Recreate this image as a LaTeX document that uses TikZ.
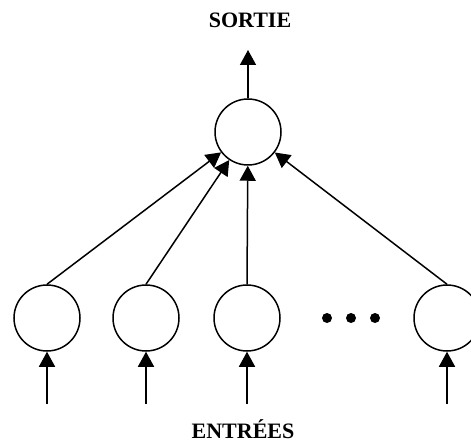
\documentclass[tikz,border=0pt]{standalone}
\usepackage{fontspec}
\setmainfont{Liberation Serif}
\usepackage{tikz}
\usetikzlibrary{calc,arrows.meta}

\tikzset{
  neuron/.style={draw,circle,line width=1.5pt,minimum size=66pt,inner sep=0pt},
  link/.style={line width=1.5pt,-{Triangle[length=15pt,width=16pt]}},
  caption/.style={font=\fontsize{22}{24}\selectfont\bfseries,inner sep=0pt}
}

\begin{document}
\begin{tikzpicture}[x=1pt,y=-1pt]
  \useasboundingbox (0,0) rectangle (471,446);

  %% Output unit and its label
  \node[neuron] (OUT) at (248,132) {};
  \coordinate (OUTTIP) at (248,50);
  \node[caption] (SORTIE) at (250,20) {SORTIE};
  \draw[link] (OUT.north) -- (OUTTIP);

  %% Input units, each one fed from below and wired to the output
  \foreach \i/\x in {1/47,2/146,3/247,4/447}
  {
    \node[neuron] (IN\i) at (\x,318) {};
    \coordinate (SRC\i) at (\x,404);
    \draw[link] (SRC\i) -- (IN\i.south);
    \draw[link] (IN\i.north) -- (OUT);
  }

  %% Dots for the units left out
  \foreach \x in {327,351,375}
    \fill (\x,318) circle (5pt);

  \node[caption,anchor=base] (ENTREES) at (243,438) {ENTRÉES};
\end{tikzpicture}
\end{document}
